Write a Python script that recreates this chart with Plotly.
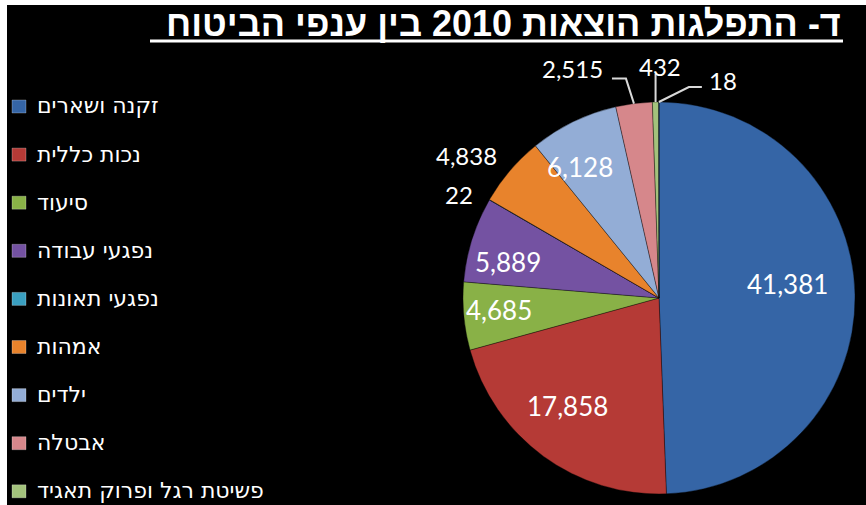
import math
import plotly.graph_objects as go

# Insurance branches (legend order) and 2010 expenditure per branch
branches = [
    "זקנה ושארים",
    "נכות כללית",
    "סיעוד",
    "נפגעי עבודה",
    "נפגעי תאונות",
    "אמהות",
    "ילדים",
    "אבטלה",
    "פשיטת רגל ופרוק תאגיד",
    "אחר",
]
expenses = [41381, 17858, 4685, 5889, 22, 4838, 6128, 2515, 432, 18]
colors = ["#3565a6", "#b53a36", "#89b147", "#7452a2", "#3a9fc0",
          "#e8832c", "#93add6", "#d6878b", "#a3c27c", "#5b7fb8"]
legend_count = 9  # branches shown in the side legend

title_text = "ד- התפלגות הוצאות 2010 בין ענפי הביטוח"

W, H = 866, 505
cx, cy, r = 659, 298, 196  # pie centre / radius in pixels


def px(x):
    return x / W


def py(y):
    return 1 - y / H


fig = go.Figure()
fig.add_trace(go.Pie(
    labels=branches,
    values=expenses,
    sort=False,
    direction="clockwise",
    rotation=0,
    marker=dict(colors=colors, line=dict(color="rgba(0,0,0,0.35)", width=1)),
    textinfo="none",
    showlegend=False,
    hoverinfo="label+value",
    domain=dict(x=[px(cx - r), px(cx + r)], y=[py(cy + r), py(cy - r)]),
))

total = sum(expenses)


def mid_angle(i):
    """Clockwise angle from 12 o'clock (degrees) of the middle of slice i."""
    before = sum(expenses[:i])
    return 360.0 * (before + expenses[i] / 2) / total


def polar(angle_deg, radius):
    a = math.radians(angle_deg)
    return cx + radius * math.sin(a), cy - radius * math.cos(a)


shapes = [
    # white frame strips along the top and left edges
    dict(type="rect", xref="paper", yref="paper", x0=0, x1=1,
         y0=py(5), y1=1, fillcolor="white", line_width=0, layer="above"),
    dict(type="rect", xref="paper", yref="paper", x0=0, x1=px(7),
         y0=0, y1=1, fillcolor="white", line_width=0, layer="above"),
    # title underline
    dict(type="line", xref="paper", yref="paper", x0=px(150), x1=px(843),
         y0=py(41), y1=py(41), line=dict(color="white", width=3)),
]

annotations = [
    dict(text="<b>" + title_text + "</b>", xref="paper", yref="paper",
         x=px(843), y=py(23), xanchor="right", yanchor="middle",
         showarrow=False, font=dict(color="white", size=36, family="Liberation Sans")),
]

# value labels inside the larger slices: (radius fraction, angle nudge in degrees)
inside_place = {0: (0.66, -5), 1: (0.72, 4), 2: (0.82, 1), 3: (0.79, -4), 6: (0.78, -5)}
for i, (frac, nudge) in inside_place.items():
    x, y = polar(mid_angle(i) + nudge, frac * r)
    annotations.append(dict(text=f"{expenses[i]:,}", xref="paper", yref="paper",
                            x=px(x), y=py(y), xanchor="center", yanchor="middle",
                            showarrow=False,
                            font=dict(color="white", size=26, family="Lato")))

# value labels outside the small slices:
# text offset from the slice rim, plus leader-line bend points (offsets from the rim)
outside_place = {
    4: dict(text=(-30, -5), anchor="center", leader=None),
    5: dict(text=(-44, -15), anchor="center", leader=None),
    7: dict(text=(-29, -35), anchor="right", leader=[(-8, -25), (-22, -25)]),
    8: dict(text=(4, -36), anchor="center", leader=[(0, -28)]),
    9: dict(text=(48, -22), anchor="left", leader=[(30, -15), (43, -15)]),
}
for i, spec in outside_place.items():
    ex, ey = polar(mid_angle(i), r)
    tx, ty = ex + spec["text"][0], ey + spec["text"][1]
    annotations.append(dict(text=f"{expenses[i]:,}", xref="paper", yref="paper",
                            x=px(tx), y=py(ty), xanchor=spec["anchor"], yanchor="middle",
                            showarrow=False,
                            font=dict(color="white", size=24, family="Lato")))
    if spec["leader"]:
        pts = [(ex, ey)] + [(ex + dx, ey + dy) for dx, dy in spec["leader"]]
        path = "M " + " L ".join(f"{px(a):.5f},{py(b):.5f}" for a, b in pts)
        shapes.append(dict(type="path", xref="paper", yref="paper", path=path,
                           line=dict(color="#d9d9d9", width=2)))

# side legend: colour square followed by the branch name
first_y, step = 106, 48.1
for i in range(legend_count):
    yc = first_y + i * step
    shapes.append(dict(type="rect", xref="paper", yref="paper",
                       x0=px(12), x1=px(26), y0=py(yc + 7), y1=py(yc - 6),
                       fillcolor=colors[i],
                       line=dict(color="rgba(255,255,255,0.25)", width=1)))
    annotations.append(dict(text=branches[i], xref="paper", yref="paper",
                            x=px(35), y=py(yc), xanchor="left", yanchor="middle",
                            showarrow=False,
                            font=dict(color="white", size=22, family="DejaVu Sans")))

fig.update_layout(
    width=W, height=H,
    margin=dict(l=0, r=0, t=0, b=0),
    paper_bgcolor="black",
    plot_bgcolor="black",
    shapes=shapes,
    annotations=annotations,
)

fig.write_html("out.html")
